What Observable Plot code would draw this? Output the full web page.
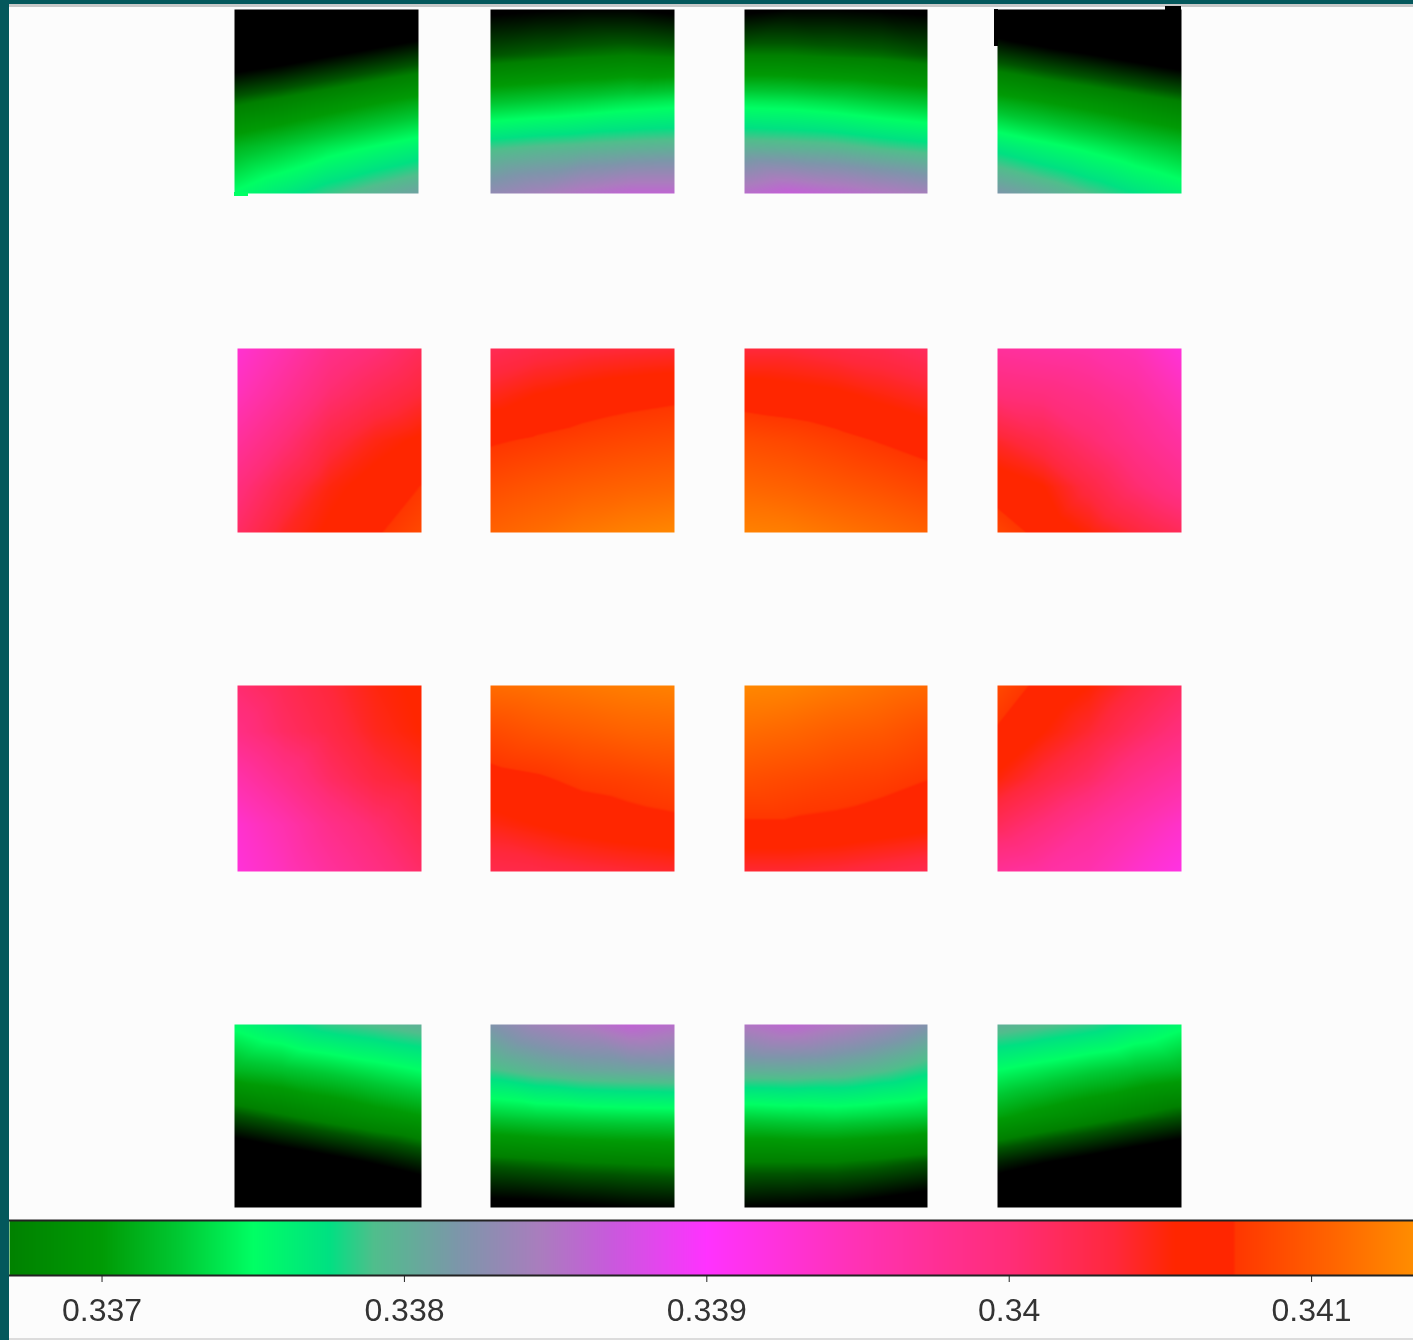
<!DOCTYPE html>
<html>
<head>
<meta charset="utf-8">
<script src="https://cdn.jsdelivr.net/npm/d3@7"></script>
<script src="https://cdn.jsdelivr.net/npm/@observablehq/plot@0.6"></script>
<style>
html,body{margin:0;padding:0;background:#fcfcfc;width:1413px;height:1340px;overflow:hidden}
#page{position:relative;width:1413px;height:1340px}
#page svg{display:block;background:transparent;position:relative;filter:blur(0.5px)}
.frame{position:absolute}
</style>
</head>
<body>
<div id="page"></div>
<script>
// Colour key: value stops and colours
const stopValues = [0.3350,0.3362,0.33655,0.33668,0.3370,0.33725,0.3375,0.33775,0.3379,0.33818,0.33845,0.33868,0.3390,0.3395,0.3400,0.34035,0.34055,0.34074,0.34075,0.3411,0.34133];
const stopColors = ["#000000","#000000","#005500","#008000","#009b05","#00c832","#00ff64","#00e182","#50be8c","#7d96aa","#aa7dbe","#c85adc","#ff32ff","#ff32b4","#ff2d78","#ff283c","#ff2600","#ff2600","#ff3700","#ff6900","#ff8c00"];
const barDomain = [0.336694,0.341337];
const barTicks = [0.337,0.338,0.339,0.34,0.341];

// Panel values, top row to bottom row, left to right inside each panel
const r1c1=[[.3352,.33535,.3355,.33563,.33575],[.33595,.33605,.33618,.3363,.33642],[.33662,.33673,.33685,.33697,.33708],[.33715,.33727,.3374,.33751,.33762],[.33752,.33768,.33785,.33798,.3381]];
const r1c2=[[.33615,.33618,.3362,.3362,.33615],[.33655,.3366,.33665,.33668,.33665],[.33722,.33727,.33732,.33738,.33742],[.33787,.33792,.33795,.33798,.338],[.3383,.3384,.33852,.3386,.3386]];
const r1c3=[[.33615,.3362,.3362,.33618,.33615],[.33668,.33668,.33665,.33662,.33655],[.33742,.3374,.33735,.33728,.33722],[.338,.33798,.33795,.33788,.33782],[.33855,.33865,.33858,.3385,.33842]];
const r1c4=[[.3358,.33565,.3355,.33535,.3352],[.33645,.33633,.33622,.3361,.33598],[.3371,.337,.3369,.33679,.33668],[.3377,.33757,.33745,.33733,.33722],[.33818,.33805,.3379,.33775,.33762]];
const r2c1=[[.3393,.33955,.33985,.3400,.34018],[.33945,.33975,.34005,.34022,.34036],[.3397,.3400,.3403,.34048,.34058],[.33995,.34025,.3405,.34062,.34075],[.34012,.34042,.34058,.34072,.34088]];
const r2c2=[[.3402,.34028,.34033,.34036,.34038],[.34045,.34055,.34062,.34067,.3407],[.34072,.34077,.34082,.34086,.34089],[.3409,.34096,.34101,.34105,.34108],[.34105,.34112,.3412,.34126,.3413]];
const r2c3=[[.34035,.34035,.3403,.34025,.34015],[.34065,.34062,.34058,.3405,.34042],[.3409,.34086,.3408,.34073,.34066],[.34108,.34104,.34098,.34092,.34085],[.34126,.34124,.34118,.34112,.34105]];
const r2c4=[[.3397,.33965,.3396,.3395,.33925],[.3400,.33995,.33985,.3397,.33945],[.3404,.34025,.34005,.33985,.33965],[.34065,.34055,.3403,.34005,.33985],[.34085,.34068,.34052,.34035,.34018]];
const r3c1=[[.34005,.3402,.34035,.3405,.34058],[.3399,.34012,.34028,.34045,.34055],[.33958,.33985,.34012,.34032,.34042],[.33932,.33955,.33985,.34005,.34025],[.33925,.33945,.3397,.3399,.3401]];
const r3c2=[[.34112,.34116,.3412,.34124,.34126],[.34088,.34095,.341,.34105,.34107],[.34068,.34072,.34079,.34082,.34086],[.34048,.34055,.34062,.34067,.3407],[.34025,.34028,.34033,.34037,.3404]];
const r3c3=[[.3413,.34128,.34122,.34116,.3411],[.34112,.34108,.34102,.34098,.3409],[.34092,.34088,.34084,.34081,.34075],[.34072,.34072,.3407,.34065,.3406],[.34038,.34038,.34035,.3403,.34024]];
const r3c4=[[.34088,.34068,.34055,.34035,.34015],[.34072,.34055,.34038,.34015,.33995],[.34052,.34032,.34012,.33985,.33965],[.34018,.33998,.33975,.33955,.33935],[.33975,.33965,.33955,.33935,.33918]];
const r4c1=[[.33755,.3377,.33785,.33792,.3380],[.33715,.33722,.3373,.3374,.3375],[.33652,.33665,.33678,.3369,.3370],[.33585,.33598,.3361,.33623,.33637],[.3353,.3354,.3355,.33565,.3358]];
const r4c2=[[.3382,.33838,.33848,.33862,.33855],[.33787,.33798,.33805,.33808,.3381],[.33727,.33732,.33735,.33737,.33738],[.3366,.33664,.33668,.3367,.33672],[.3361,.33612,.33616,.3362,.33622]];
const r4c3=[[.3385,.3386,.3385,.33838,.33822],[.33802,.33803,.338,.33792,.3378],[.33732,.33735,.33737,.33733,.33728],[.33668,.33668,.33668,.33663,.33655],[.3362,.33618,.33615,.33608,.336]];
const r4c4=[[.3380,.33793,.33785,.3377,.33755],[.3375,.3374,.3373,.33722,.33715],[.33705,.33692,.3368,.33667,.33655],[.33635,.33622,.3361,.33597,.33585],[.3358,.33565,.3355,.3354,.3353]];

const grids=[[r1c1,r1c2,r1c3,r1c4],[r2c1,r2c2,r2c3,r2c4],[r3c1,r3c2,r3c3,r3c4],[r4c1,r4c2,r4c3,r4c4]];

// Page layout of the panels (extents in page pixels)
const rowSpans=[[9,193],[348,532],[685,871],[1024,1207]];
const colSpans=[
  [[234,418],[490,674],[744,927],[997,1181]],
  [[237,421],[490,674],[744,927],[997,1181]],
  [[237,421],[490,674],[744,927],[997,1181]],
  [[234,421],[490,674],[744,927],[997,1181]]
];
// Small overdrawn slivers at panel corners in the source image
const slivers=[
  {x1:234,x2:248,y1:192,y2:196,v:0.3375},
  {x1:994,x2:998,y1:9,y2:46,v:0.3355},
  {x1:1165,x2:1181,y1:6,y2:10,v:0.3355}
];

const color={type:"linear",domain:stopValues,range:stopColors,clamp:true,interpolate:"rgb"};
const panelMarks=[];
grids.forEach((row,r)=>row.forEach((grid,c)=>{
  const [y1,y2]=rowSpans[r], [x1,x2]=colSpans[r][c];
  const pts=grid.flatMap((line,j)=>line.map((v,i)=>({
    x:x1+(x2-x1)*i/(line.length-1),
    y:y1+(y2-y1)*j/(grid.length-1),
    v})));
  panelMarks.push(Plot.raster(pts,{x:"x",y:"y",fill:"v",x1,x2,y1,y2,interpolate:"barycentric",pixelSize:1}));
}));

const panels=Plot.plot({
  width:1413,height:1215,margin:0,
  x:{domain:[0,1413],range:[0,1413],axis:null},
  y:{domain:[0,1215],range:[0,1215],axis:null},
  color,
  marks:[...panelMarks,Plot.rect(slivers,{x1:"x1",x2:"x2",y1:"y1",y2:"y2",fill:"v"})]
});

const bar=Plot.plot({
  width:1413,height:125,
  marginLeft:9,marginRight:0,marginTop:5,marginBottom:65,
  x:{domain:barDomain,axis:null},
  y:{domain:[0,1],axis:null},
  color,
  style:{fontFamily:"'Liberation Sans',sans-serif",color:"#333"},
  marks:[
    Plot.raster({x1:barDomain[0],x2:barDomain[1],y1:0,y2:1,fill:(x)=>x,pixelSize:1}),
    Plot.ruleY([0,1],{stroke:"#222",strokeWidth:2}),
    Plot.axisX(barTicks,{anchor:"bottom",tickSize:7,tickPadding:16,tickFormat:String,label:null,fontSize:32,stroke:"#222",fill:"#333"})
  ]
});

const page=document.getElementById("page");
for(const [l,t,w,h,bg] of [[0,0,1413,4,"#04585c"],[9,4,1404,3,"#c8c8c8"],[9,1338,1404,2,"#dcdcdc"]]){
  const d=document.createElement("div");d.className="frame";
  d.style.cssText=`left:${l}px;top:${t}px;width:${w}px;height:${h}px;background:${bg}`;
  page.append(d);
}
page.append(panels,bar);
const strip=document.createElement("div");strip.className="frame";
strip.style.cssText="left:0;top:0;width:9px;height:1340px;background:#04585c";
page.append(strip);
</script>
</body>
</html>
